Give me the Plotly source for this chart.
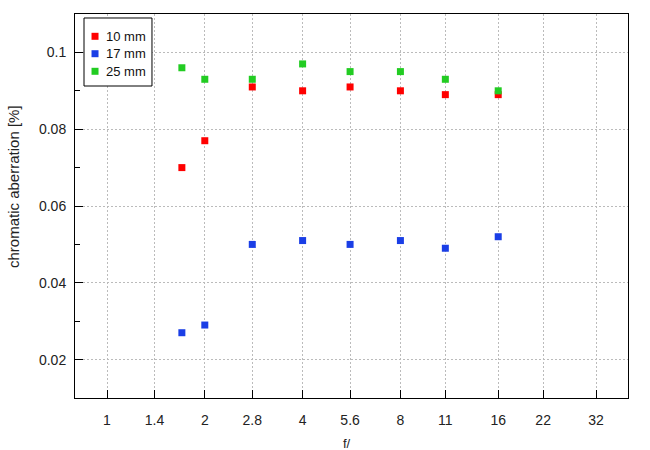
import plotly.graph_objects as go

f_numbers = [1.7, 2, 2.8, 4, 5.6, 8, 11, 16]
ca_10mm = [0.070, 0.077, 0.091, 0.090, 0.091, 0.090, 0.089, 0.089]
ca_17mm = [0.027, 0.029, 0.050, 0.051, 0.050, 0.051, 0.049, 0.052]
ca_25mm = [0.096, 0.093, 0.093, 0.097, 0.095, 0.095, 0.093, 0.090]

series_names = ["10 mm", "17 mm", "25 mm"]
series_colors = ["#ff0000", "#1a3ee6", "#22cc22"]

x_tick_vals = [1, 1.4, 2, 2.8, 4, 5.6, 8, 11, 16, 22, 32]
x_tick_text = ["1", "1.4", "2", "2.8", "4", "5.6", "8", "11", "16", "22", "32"]
y_tick_vals = [0.02, 0.04, 0.06, 0.08, 0.1]
y_tick_text = ["0.02", "0.04", "0.06", "0.08", "0.1"]

fig = go.Figure()
for name, vals, col in zip(series_names, [ca_10mm, ca_17mm, ca_25mm], series_colors):
    fig.add_trace(go.Scatter(
        x=f_numbers, y=vals, mode="markers", name=name, showlegend=False,
        marker=dict(symbol="square", size=7, color=col, line=dict(width=0)),
    ))

family = "Liberation Sans, Arial, sans-serif"
tick_font = dict(family=family, size=14, color="#222222")
legend_font = dict(family=family, size=13, color="#111111")
ytitle_font = dict(family=family, size=15, color="#222222")
xtitle_font = dict(family=family, size=13, color="#222222")

# Compact legend drawn as a box with swatches and labels (paper coordinates)
legend_box = dict(x0=0.0163, x1=0.1392, y0=0.8125, y1=0.9896)
legend_swatch_x = 0.0362
legend_text_x = 0.0524
legend_rows_y = [0.9419, 0.8966, 0.8508]

shapes = [dict(type="rect", xref="paper", yref="paper", layer="above",
               line=dict(color="black", width=1), fillcolor="white", **legend_box)]
annotations = []
for name, col, ry in zip(series_names, series_colors, legend_rows_y):
    shapes.append(dict(type="rect", xref="paper", yref="paper", layer="above",
                       xsizemode="pixel", ysizemode="pixel",
                       xanchor=legend_swatch_x, yanchor=ry,
                       x0=-3.5, x1=3.5, y0=-3.5, y1=3.5,
                       line=dict(width=0), fillcolor=col))
    annotations.append(dict(xref="paper", yref="paper", x=legend_text_x, y=ry,
                            xanchor="left", yanchor="middle", text=name,
                            showarrow=False, font=legend_font))

# Axis titles
annotations.append(dict(xref="paper", yref="paper", x=-0.1112, y=0.5508,
                        xanchor="center", yanchor="middle", textangle=-90,
                        text="chromatic aberration [%]", showarrow=False, font=ytitle_font))
annotations.append(dict(xref="paper", yref="paper", x=0.492, y=-0.1185,
                        xanchor="center", yanchor="middle",
                        text="f/", showarrow=False, font=xtitle_font))

fig.update_layout(
    width=650, height=450,
    margin=dict(l=75, r=22, t=14, b=52),
    paper_bgcolor="white", plot_bgcolor="white",
    font=tick_font,
    shapes=shapes, annotations=annotations,
    xaxis=dict(
        type="log", range=[-0.0985, 1.6036], automargin=False,
        tickmode="array", tickvals=x_tick_vals, ticktext=x_tick_text,
        ticks="inside", ticklen=8, tickcolor="black", tickwidth=1,
        showline=True, linecolor="black", linewidth=1, mirror=True,
        showgrid=True, gridcolor="#bbbbbb", griddash="2px,2px", gridwidth=1,
        zeroline=False, ticklabelstandoff=9, tickfont=tick_font,
    ),
    yaxis=dict(
        range=[0.01, 0.11], automargin=False,
        tickmode="array", tickvals=y_tick_vals, ticktext=y_tick_text,
        ticks="inside", ticklen=8, tickcolor="black", tickwidth=1,
        minor=dict(ticks="inside", ticklen=5, dtick=0.01, tick0=0.01, tickcolor="black", showgrid=False),
        showline=True, linecolor="black", linewidth=1, mirror=True,
        showgrid=True, gridcolor="#bbbbbb", griddash="2px,2px", gridwidth=1,
        zeroline=False, ticklabelstandoff=5, tickfont=tick_font,
    ),
)

fig.write_html("out.html")
